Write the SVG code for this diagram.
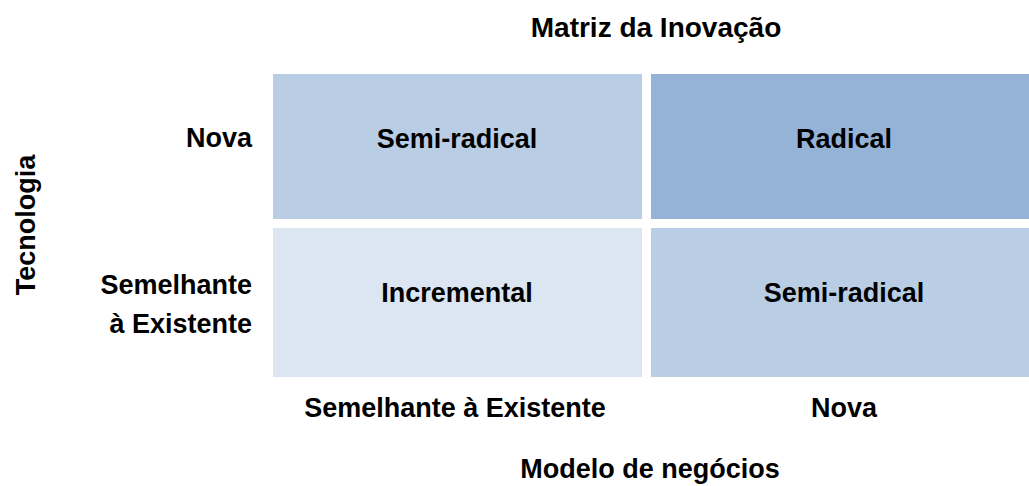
<svg xmlns="http://www.w3.org/2000/svg" width="1029" height="486" viewBox="0 0 1029 486">
<style>
text{font-family:"Liberation Sans",Arial,sans-serif;font-weight:bold;font-size:27px;fill:#000}
.c{text-anchor:middle}
.r{text-anchor:end}
.t{font-size:28px}
</style>
<rect width="1029" height="486" fill="#fff"/>
<g id="title"><text class="c t" x="656" y="37">Matriz da Inovação</text></g>
<g id="cell-top-left"><rect x="273" y="74" width="369" height="145" fill="#B9CDE5"/><text class="c" x="457" y="148">Semi-radical</text></g>
<g id="cell-top-right"><rect x="651" y="74" width="378" height="145" fill="#95B3D7"/><text class="c" x="844" y="148">Radical</text></g>
<g id="cell-bottom-left"><rect x="273" y="228" width="369" height="149" fill="#DCE6F2"/><text class="c" x="457" y="302">Incremental</text></g>
<g id="cell-bottom-right"><rect x="651" y="228" width="378" height="149" fill="#B9CDE5"/><text class="c" x="844" y="302">Semi-radical</text></g>
<g id="row-labels">
<text class="r" x="252" y="147">Nova</text>
<text class="r" x="252" y="294">Semelhante</text>
<text class="r" x="252" y="333">à Existente</text>
</g>
<g id="col-labels">
<text class="c" x="455" y="417">Semelhante à Existente</text>
<text class="c" x="844" y="417">Nova</text>
</g>
<g id="axis-x"><text class="c" x="650" y="478">Modelo de negócios</text></g>
<g id="axis-y"><text class="c" transform="translate(35,225) rotate(-90)">Tecnologia</text></g>
<g id="connectors"/>
</svg>
